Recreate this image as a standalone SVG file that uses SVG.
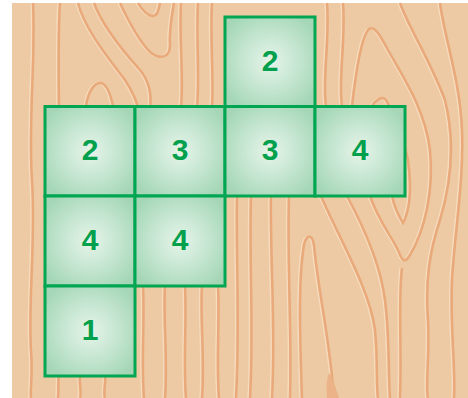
<svg xmlns="http://www.w3.org/2000/svg" xmlns:xlink="http://www.w3.org/1999/xlink" width="468" height="398" viewBox="0 0 468 398">
<style>
.wood{fill:#edcaa3}
.hl{fill:none;stroke:#f6dcbf;stroke-width:1.4}
.dk{fill:none;stroke:#e9a97a;stroke-width:2.5}
.cell{fill:url(#cg);stroke:#00a651;stroke-width:3}
.num{font-family:"Liberation Sans",Arial,sans-serif;font-weight:bold;font-size:30px;fill:#00a04c;text-anchor:middle}
</style>
<defs>
<radialGradient id="cg" cx="50%" cy="50%" r="60%">
<stop offset="0" stop-color="#e6f4ea"/>
<stop offset="0.55" stop-color="#c3e5cf"/>
<stop offset="1" stop-color="#a5d7b7"/>
</radialGradient>
<g id="grain">
<path d="M33,3 C36,60 28,120 32,180 C36,240 28,300 31,350 C33,375 30,390 31,398"/>
<path d="M60,3 C56,60 62,150 58,250 C56,320 60,370 58,398"/>
<path d="M78,3 C85,30 110,60 125,80 C135,95 138,105 140,115"/>
<path d="M94,3 C102,25 122,50 140,70 C150,82 152,95 150,110"/>
<path d="M120,3 C128,20 138,40 150,52 C160,60 170,58 170,45 C169,30 172,15 174,3"/>
<path d="M138,3 C142,10 148,16 153,16 C158,16 159,8 160,3"/>
<path d="M86,106 C88,92 94,83 100,83 C106,83 110,92 113,106"/>
<path d="M181,3 C179,40 184,80 181,106"/>
<path d="M198,3 C196,40 200,80 197,106"/>
<path d="M212,3 C210,40 214,80 212,106"/>
<path d="M327,3 C330,40 322,80 326,106"/>
<path d="M343,3 C346,40 338,80 342,106"/>
<path d="M372,106 C376,100 382,95 386,100 C392,110 402,130 408,160 C412,190 410,210 403,223 C398,215 394,205 392,196"/>
<path d="M352,106 C355,80 360,40 368,30 C374,24 380,35 388,50 C405,80 425,110 430,150 C434,190 425,230 410,255 C406,262 403,262 400,255 C395,240 380,225 370,196"/>
<path d="M400,3 C410,30 430,60 445,100 C455,140 452,180 440,220 C430,250 425,280 428,320 C430,360 425,385 428,398"/>
<path d="M440,3 C445,40 460,80 462,130 C464,180 455,230 452,280 C450,330 456,370 454,398"/>
<path d="M237,196 C236,260 240,330 236,398"/>
<path d="M251,196 C249,260 254,330 250,398"/>
<path d="M271,196 C270,260 276,330 272,398"/>
<path d="M289,196 C287,260 292,330 290,398"/>
<path d="M302,398 C300,340 298,280 304,245 C306,235 312,233 314,245 C318,290 330,340 334,398"/>
<path d="M321,196 C340,240 370,290 375,330 C378,360 376,385 378,398"/>
<path d="M347,196 C360,220 380,260 385,300 C390,340 388,370 390,398"/>
<path d="M402,268 C398,300 402,350 400,398"/>
<path d="M143,286 C145,320 141,360 144,398"/>
<path d="M165,286 C163,320 168,360 165,398"/>
<path d="M185,286 C187,320 183,360 186,398"/>
<path d="M202,286 C200,320 205,360 202,398"/>
<path d="M218,286 C220,320 216,360 219,398"/>
<path d="M80,376 C79,385 82,392 80,398"/>
<path d="M105,376 C106,385 103,392 105,398"/>
</g>
</defs>
<rect class="wood" x="12" y="3" width="456" height="395"/>
<use href="#grain" class="hl" transform="translate(-2,0)"/>
<use href="#grain" class="dk"/>
<path d="M327,398 C326,386 327,377 329,373 C332,377 336,388 339,398 Z" fill="#ebb387"/>
<g id="c0"><rect class="cell" x="225" y="17" width="90" height="89.5"/><text class="num" x="270" y="71">2</text></g>
<g id="c1"><rect class="cell" x="45" y="106.5" width="90" height="89.5"/><text class="num" x="90" y="160">2</text></g>
<g id="c2"><rect class="cell" x="135" y="106.5" width="90" height="89.5"/><text class="num" x="180" y="160">3</text></g>
<g id="c3"><rect class="cell" x="225" y="106.5" width="90" height="89.5"/><text class="num" x="270" y="160">3</text></g>
<g id="c4"><rect class="cell" x="315" y="106.5" width="90" height="89.5"/><text class="num" x="360" y="160">4</text></g>
<g id="c5"><rect class="cell" x="45" y="196" width="90" height="90"/><text class="num" x="90" y="250">4</text></g>
<g id="c6"><rect class="cell" x="135" y="196" width="90" height="90"/><text class="num" x="180" y="250">4</text></g>
<g id="c7"><rect class="cell" x="45" y="286" width="90" height="90"/><text class="num" x="90" y="340">1</text></g>
</svg>
